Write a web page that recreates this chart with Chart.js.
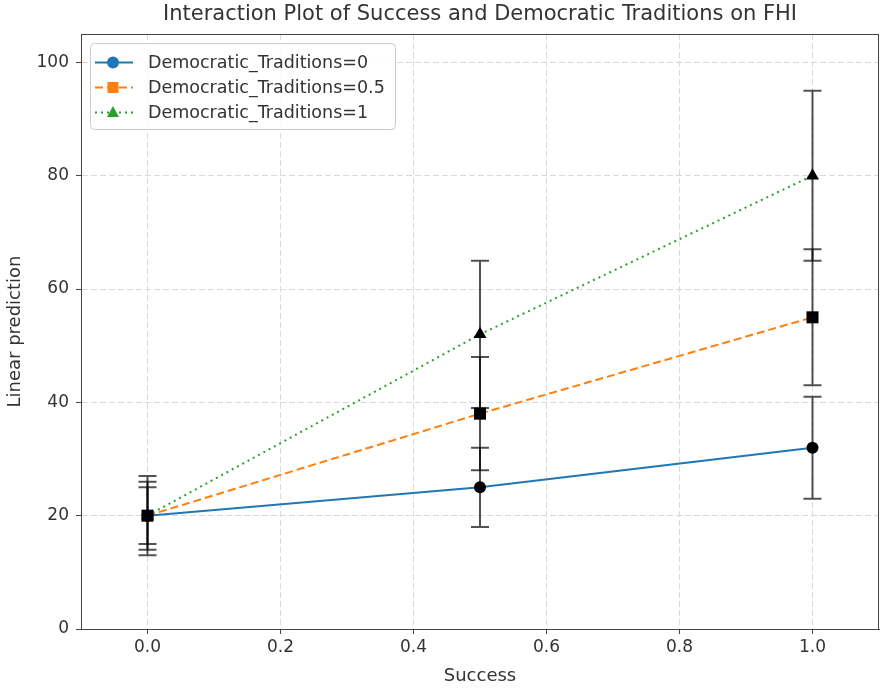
<!DOCTYPE html>
<html>
<head>
<meta charset="utf-8">
<script src="https://cdn.jsdelivr.net/npm/chart.js@4.4.0/dist/chart.umd.min.js"></script>
<style>
  html, body { margin: 0; padding: 0; background: #fff; }
</style>
</head>
<body>
<canvas id="myChart" width="881" height="689"></canvas>
<script>
// values
const successLevels = [0, 0.5, 1];
const seriesLabels = ['Democratic_Traditions=0', 'Democratic_Traditions=0.5', 'Democratic_Traditions=1'];
const fhiDT0 = [20, 25, 32];
const fhiDT05 = [20, 38, 55];
const fhiDT1 = [20, 52, 80];
const lowDT0 = [13, 18, 23];
const highDT0 = [27, 32, 41];
const lowDT05 = [14, 28, 43];
const highDT05 = [26, 48, 67];
const lowDT1 = [15, 39, 65];
const highDT1 = [25, 65, 95];
const xTicks = [0, 0.2, 0.4, 0.6, 0.8, 1.0];
const yTicks = [0, 20, 40, 60, 80, 100];

const seriesValues = [fhiDT0, fhiDT05, fhiDT1];
const seriesLow = [lowDT0, lowDT05, lowDT1];
const seriesHigh = [highDT0, highDT05, highDT1];

const colors = ['#1f77b4', '#ff7f0e', '#2ca02c'];
const dashes = [[], [8, 4], [2, 4]];
const shapes = ['circle', 'rect', 'triangle'];
const radii = [6, 8.5, 7.5];
const markerOrder = [1.3, 1.0, 1.2];
const FONT = 'DejaVu Sans';
const TEXT = '#333333';

function points(values) {
  return values.map((v, i) => ({ x: successLevels[i], y: v }));
}

const datasets = [];
seriesValues.forEach((vals, i) => {
  datasets.push({
    label: seriesLabels[i],
    data: points(vals),
    borderColor: colors[i],
    borderWidth: 2,
    borderDash: dashes[i],
    pointRadius: 0,
    fill: false,
    tension: 0,
    order: 3
  });
});
seriesValues.forEach((vals, i) => {
  datasets.push({
    label: seriesLabels[i] + ' markers',
    data: points(vals),
    showLine: false,
    pointStyle: shapes[i],
    pointRadius: radii[i],
    pointBackgroundColor: '#000',
    pointBorderColor: '#000',
    pointBorderWidth: 0,
    order: markerOrder[i],
    isMarker: true
  });
});

// error bars go between the coloured lines and the black markers
let barsDrawn = false;
const errorBars = {
  id: 'errorBars',
  beforeDatasetsDraw() { barsDrawn = false; },
  beforeDatasetDraw(chart, args) {
    if (barsDrawn || !chart.data.datasets[args.index].isMarker) return;
    barsDrawn = true;
    const { ctx, scales: { x, y } } = chart;
    ctx.save();
    ctx.strokeStyle = 'rgba(0,0,0,0.68)';
    ctx.lineWidth = 2;
    seriesLow.forEach((lows, s) => {
      lows.forEach((lo, i) => {
        const px = x.getPixelForValue(successLevels[i]);
        const pLo = y.getPixelForValue(lo);
        const pHi = y.getPixelForValue(seriesHigh[s][i]);
        ctx.beginPath();
        ctx.moveTo(px, pLo); ctx.lineTo(px, pHi);
        ctx.moveTo(px - 9, pLo); ctx.lineTo(px + 9, pLo);
        ctx.moveTo(px - 9, pHi); ctx.lineTo(px + 9, pHi);
        ctx.stroke();
      });
    });
    ctx.restore();
  }
};

function legendMarker(ctx, shape, x, y) {
  ctx.beginPath();
  if (shape === 'circle') {
    ctx.arc(x, y, 6, 0, Math.PI * 2);
  } else if (shape === 'rect') {
    ctx.rect(x - 5.5, y - 5.5, 11, 11);
  } else {
    ctx.moveTo(x, y - 6.5);
    ctx.lineTo(x + 6, y + 4.5);
    ctx.lineTo(x - 6, y + 4.5);
    ctx.closePath();
  }
  ctx.fill();
}

const frameAndLegend = {
  id: 'frameAndLegend',
  afterDraw(chart) {
    const { ctx, chartArea } = chart;
    ctx.save();
    // full axes frame
    ctx.strokeStyle = '#444';
    ctx.lineWidth = 1;
    ctx.strokeRect(Math.round(chartArea.left) + 0.5, Math.round(chartArea.top) + 0.5,
      Math.round(chartArea.right - chartArea.left) - 1, Math.round(chartArea.bottom - chartArea.top));

    // legend box, upper left
    const x0 = Math.round(chartArea.left) + 9;
    const y0 = Math.round(chartArea.top) + 9;
    ctx.fillStyle = 'rgba(255,255,255,0.85)';
    ctx.strokeStyle = '#cccccc';
    ctx.beginPath();
    ctx.roundRect(x0 + 0.5, y0 + 0.5, 305, 86, 4);
    ctx.fill();
    ctx.stroke();

    ctx.font = '17.5px "' + FONT + '"';
    ctx.textBaseline = 'middle';
    seriesLabels.forEach((label, i) => {
      const cy = y0 + 19.5 + i * 25;
      ctx.strokeStyle = colors[i];
      ctx.lineWidth = 2;
      ctx.setLineDash(dashes[i]);
      ctx.beginPath();
      ctx.moveTo(x0 + 5, cy);
      ctx.lineTo(x0 + 43, cy);
      ctx.stroke();
      ctx.setLineDash([]);
      ctx.fillStyle = colors[i];
      legendMarker(ctx, shapes[i], x0 + 23, cy);
      ctx.fillStyle = TEXT;
      ctx.fillText(label, x0 + 58, cy + 1);
    });
    ctx.restore();
  }
};

const ctx = document.getElementById('myChart').getContext('2d');
new Chart(ctx, {
  type: 'line',
  data: { datasets },
  options: {
    responsive: false,
    devicePixelRatio: 1,
    animation: false,
    events: [],
    layout: { autoPadding: false, padding: { left: 0, right: 2, top: 0, bottom: 0 } },
    plugins: {
      legend: { display: false },
      tooltip: { enabled: false },
      title: {
        display: true,
        fullSize: false,
        text: 'Interaction Plot of Success and Democratic Traditions on FHI',
        color: TEXT,
        font: { family: FONT, size: 21, weight: 'normal' },
        padding: { top: 2, bottom: 6.8 }
      }
    },
    scales: {
      x: {
        type: 'linear',
        min: -0.1,
        max: 1.1,
        afterBuildTicks(scale) { scale.ticks = xTicks.map(v => ({ value: v })); },
        afterFit(scale) {
          scale.height = 60;
          scale.paddingLeft = 0;
          scale.paddingRight = 0;
        },
        grid: { color: '#dadada', lineWidth: 1, tickLength: 5, tickColor: '#444', tickWidth: 1 },
        border: { display: true, color: '#444', width: 1, dash: [6, 3] },
        ticks: {
          color: TEXT,
          font: { family: FONT, size: 17 },
          padding: 3,
          maxRotation: 0,
          autoSkip: false,
          callback: v => Number(v).toFixed(1)
        },
        title: {
          display: true,
          text: 'Success',
          color: TEXT,
          font: { family: FONT, size: 18 },
          padding: { top: 2, bottom: 2.2 }
        }
      },
      y: {
        type: 'linear',
        min: 0,
        max: 105,
        afterBuildTicks(scale) { scale.ticks = yTicks.map(v => ({ value: v })); },
        afterFit(scale) {
          scale.width = 81;
          scale.paddingTop = 0;
          scale.paddingBottom = 0;
        },
        grid: { color: '#dadada', lineWidth: 1, tickLength: 5, tickColor: '#444', tickWidth: 1 },
        border: { display: true, color: '#444', width: 1, dash: [6, 3] },
        ticks: {
          color: TEXT,
          font: { family: FONT, size: 17 },
          padding: 7
        },
        title: {
          display: true,
          text: 'Linear prediction',
          color: TEXT,
          font: { family: FONT, size: 18 },
          padding: { top: 4.2, bottom: 2 }
        }
      }
    }
  },
  plugins: [errorBars, frameAndLegend]
});
</script>
</body>
</html>
